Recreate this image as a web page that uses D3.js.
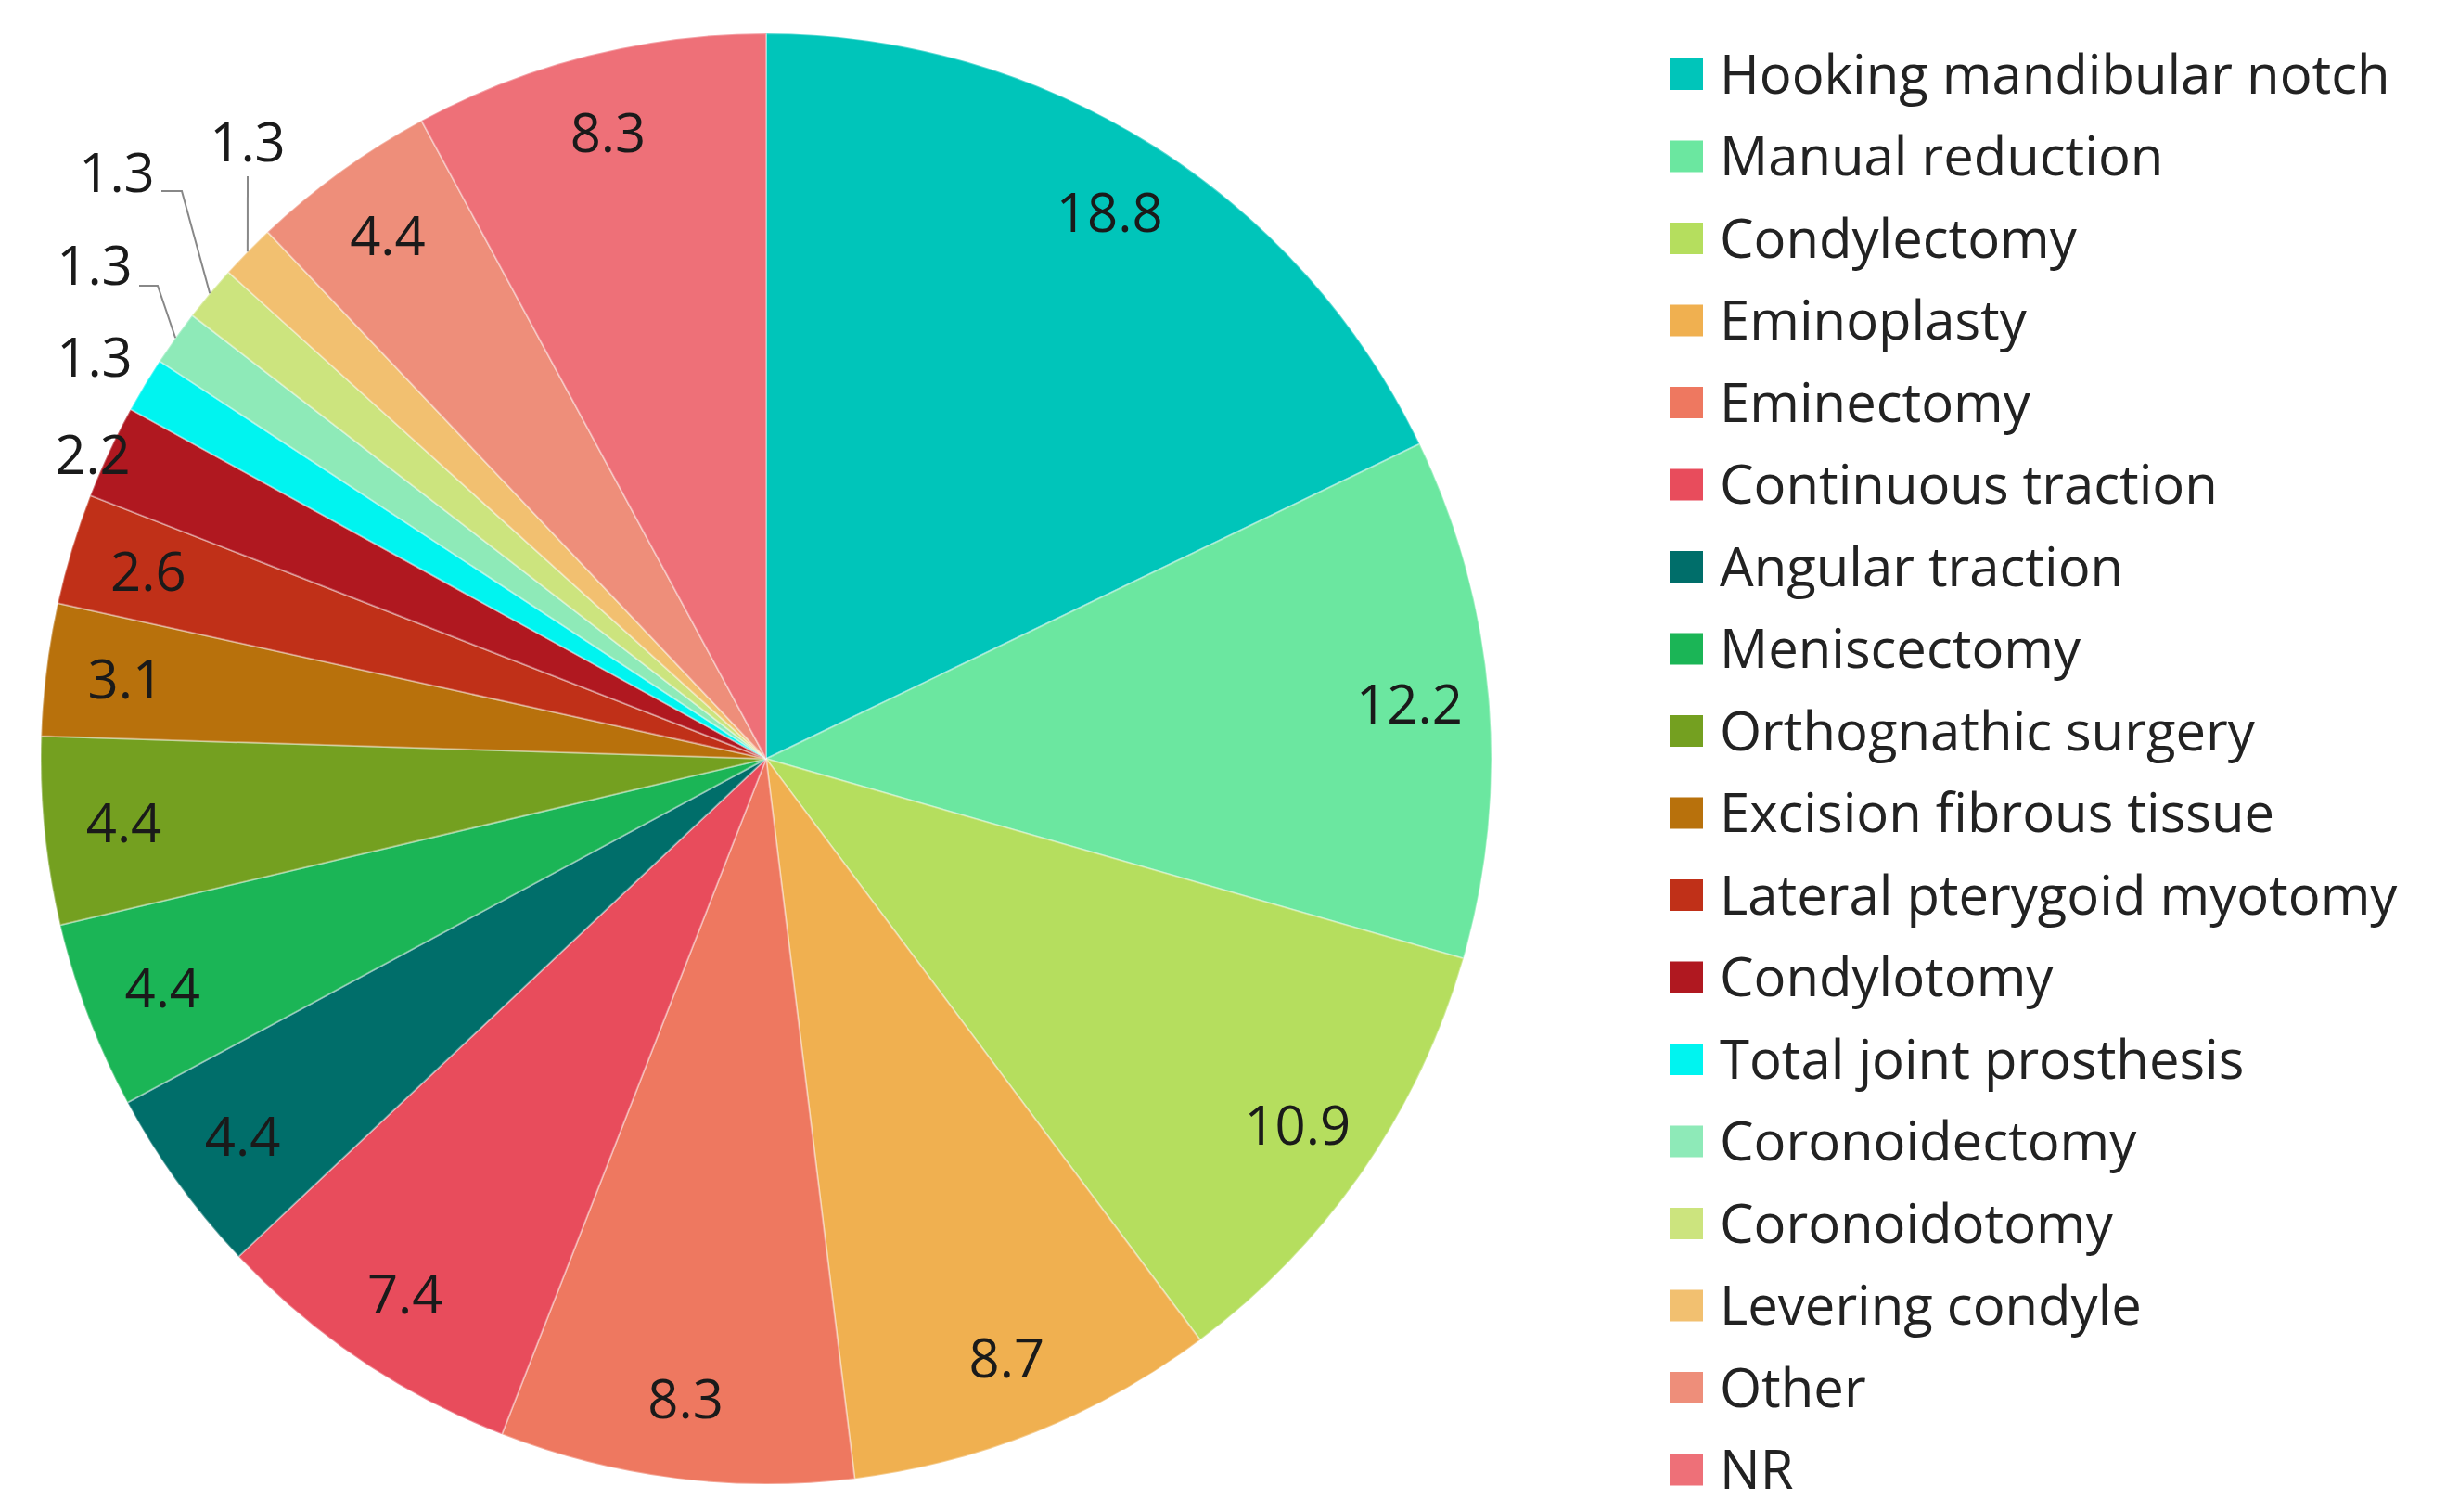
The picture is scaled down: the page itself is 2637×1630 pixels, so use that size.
<!DOCTYPE html>
<html><head><meta charset="utf-8">
<script src="https://cdn.jsdelivr.net/npm/d3@7"></script>
<style>body{margin:0;background:#fff}</style></head>
<body><svg id="c" width="2637" height="1630"></svg>
<script>
const categories = ["Hooking mandibular notch","Manual reduction","Condylectomy","Eminoplasty","Eminectomy","Continuous traction","Angular traction","Meniscectomy","Orthognathic surgery","Excision fibrous tissue","Lateral pterygoid myotomy","Condylotomy","Total joint prosthesis","Coronoidectomy","Coronoidotomy","Levering condyle","Other","NR"];
const values = [18.8,12.2,10.9,8.7,8.3,7.4,4.4,4.4,4.4,3.1,2.6,2.2,1.3,1.3,1.3,1.3,4.4,8.3];
const colors = ["#00C5BA","#6BE7A0","#B5DE5E","#F0B050","#EE7860","#E84C5C","#006E6A","#1BB556","#74A020","#B8710C","#C03018","#B01820","#00F4F0","#8EEAB8","#CCE47E","#F2C070","#EE8E7A","#EE7078"];

const svg = d3.select("#c");
const cx = 826, cy = 818, R = 782;
const font = "'Open Sans','Noto Sans',sans-serif";
const g = svg.append("g").attr("transform",`translate(${cx},${cy})`);
const pie = d3.pie().sort(null).value(d=>d);
const arcs = pie(values);
const arc = d3.arc().innerRadius(0).outerRadius(R);
g.selectAll("path").data(arcs).join("path")
  .attr("d",arc).attr("fill",(d,i)=>colors[i])
  .attr("stroke","rgba(255,255,255,0.35)").attr("stroke-width",2);

const labArc = d3.arc().innerRadius(R*0.89).outerRadius(R*0.89);
// outside label placements (relative to centre) for the tiny slices
const outside = {
  11:{t:[-726,-328]},
  12:{t:[-724,-433]},
  13:{t:[-724,-532], line:[[-676,-510],[-656,-510]]},
  14:{t:[-700,-632], line:[[-652,-612],[-630,-612]]},
  15:{t:[-559,-665], line:[[-559,-628]]}
};
arcs.forEach((d,i)=>{
  let p;
  if (outside[i]) {
    const o = outside[i];
    p = o.t;
    if (o.line) {
      const a = (d.startAngle+d.endAngle)/2;
      const end = [Math.sin(a)*R, -Math.cos(a)*R];
      const pts = o.line.concat([end]);
      g.append("path").attr("d",d3.line()(pts)).attr("fill","none")
        .attr("stroke","#888").attr("stroke-width",2);
    }
  } else {
    p = labArc.centroid(d);
  }
  g.append("text").attr("x",p[0]).attr("y",p[1]).attr("dy","0.36em")
    .attr("text-anchor","middle").attr("font-family",font).attr("font-size",58)
    .attr("fill","#1a1a1a").text(values[i]);
});

const y0 = 80, step = 88.5;
const lg = svg.append("g");
categories.forEach((c,i)=>{
  lg.append("rect").attr("x",1800).attr("y",y0+i*step-17).attr("width",36).attr("height",34).attr("fill",colors[i]);
  lg.append("text").attr("x",1854).attr("y",y0+i*step).attr("dy","0.36em")
    .attr("font-family",font).attr("font-size",58).attr("fill","#222").text(c);
});
</script></body></html>
